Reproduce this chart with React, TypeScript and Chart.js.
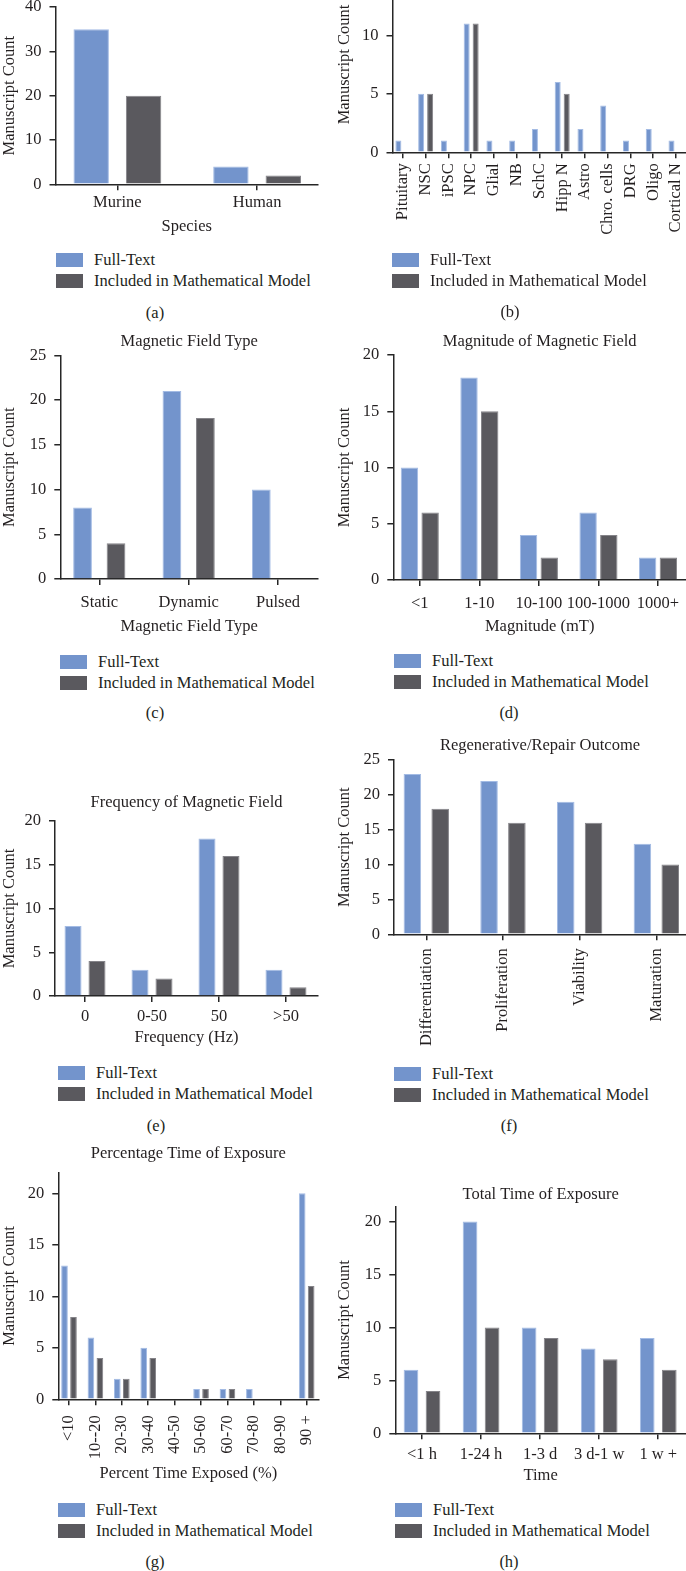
import { useEffect, useRef } from 'react';
import { Chart, registerables } from 'chart.js';

Chart.register(...registerables);

const SERIF = '"Liberation Serif", "Times New Roman", Times, serif';
const FONT_SIZE = 16.5;
const LINE_H = FONT_SIZE * 1.2;
const INK = '#231f20';
const AXIS_INK = '#262626';
const FULL_FILL = '#7394cc';
const FULL_EDGE = '#a3bbe4';
const MODEL_FILL = '#5a595e';
const MODEL_EDGE = '#858489';

const SERIES_NAMES = ['Full-Text', 'Included in Mathematical Model'];
const Y_TITLE = 'Manuscript Count';

// (a) Species
const speciesLabels = ['Murine', 'Human'];
const speciesFull = [35, 4];
const speciesModel = [20, 2];

// (b) Cell type
const cellLabels = ['Pituitary', 'NSC', 'iPSC', 'NPC', 'Glial', 'NB', 'SchC', 'Hipp N', 'Astro', 'Chro. cells', 'DRG', 'Oligo', 'Cortical N'];
const cellFull = [1, 5, 1, 11, 1, 1, 2, 6, 2, 4, 1, 2, 1];
const cellModel = [0, 5, 0, 11, 0, 0, 0, 5, 0, 0, 0, 0, 0];

// (c) Magnetic field type
const fieldTypeLabels = ['Static', 'Dynamic', 'Pulsed'];
const fieldTypeFull = [8, 21, 10];
const fieldTypeModel = [4, 18, 0];

// (d) Magnitude
const magnitudeLabels = ['<1', '1-10', '10-100', '100-1000', '1000+'];
const magnitudeFull = [10, 18, 4, 6, 2];
const magnitudeModel = [6, 15, 2, 4, 2];

// (e) Frequency
const frequencyLabels = ['0', '0-50', '50', '>50'];
const frequencyFull = [8, 3, 18, 3];
const frequencyModel = [4, 2, 16, 1];

// (f) Outcome
const outcomeLabels = ['Differentiation', 'Proliferation', 'Viability', 'Maturation'];
const outcomeFull = [23, 22, 19, 13];
const outcomeModel = [18, 16, 16, 10];

// (g) Percentage time of exposure
const percentLabels = ['<10', '10--20', '20-30', '30-40', '40-50', '50-60', '60-70', '70-80', '80-90', '90 +'];
const percentFull = [13, 6, 2, 5, 0, 1, 1, 1, 0, 20];
const percentModel = [8, 4, 2, 4, 0, 1, 1, 0, 0, 11];

// (h) Total time of exposure
const durationLabels = ['<1 h', '1-24 h', '1-3 d', '3 d-1 w', '1 w +'];
const durationFull = [6, 20, 10, 8, 9];
const durationModel = [4, 10, 9, 7, 6];

interface Rect { l: number; t: number; r: number; b: number }
interface PanelSpec {
  caption: string;
  col: 0 | 1;
  labels: string[];
  full: number[];
  model: number[];
  title?: string;
  titleY?: number;
  xTitle?: string;
  xTitleY?: number;
  xAxisH?: number;
  area: Rect;
  yMax: number;
  yStep: number;
  xMin: number;
  xMax: number;
  catPct: number;
  barPct: number;
  rotate: boolean;
  tickPad: number;
  legend: { x: number; y: number };
  captionAt: { x: number; y: number };
}

const panels: PanelSpec[] = [
  {
    caption: '(a)', col: 0, labels: speciesLabels, full: speciesFull, model: speciesModel,
    xTitle: 'Species', xTitleY: 227,
    area: { l: 55.5, t: 7, r: 318, b: 184.3 }, yMax: 40, yStep: 10,
    xMin: -0.443, xMax: 1.436, catPct: 0.75, barPct: 0.676, rotate: false, tickPad: 2.5,
    legend: { x: 56, y: 252.5 }, captionAt: { x: 155, y: 313 },
  },
  {
    caption: '(b)', col: 1, labels: cellLabels, full: cellFull, model: cellModel,
    xAxisH: 95,
    area: { l: 392.5, t: -23.2, r: 686, b: 152.3 }, yMax: 15, yStep: 5,
    xMin: -0.456, xMax: 12.44, catPct: 0.79, barPct: 0.667, rotate: true, tickPad: 5,
    legend: { x: 392, y: 253 }, captionAt: { x: 510, y: 312 },
  },
  {
    caption: '(c)', col: 0, labels: fieldTypeLabels, full: fieldTypeFull, model: fieldTypeModel,
    title: 'Magnetic Field Type', titleY: 342, xTitle: 'Magnetic Field Type', xTitleY: 626.5,
    area: { l: 60.3, t: 355.3, r: 318, b: 579 }, yMax: 25, yStep: 5,
    xMin: -0.436, xMax: 2.447, catPct: 0.749, barPct: 0.56, rotate: false, tickPad: 7.5,
    legend: { x: 60, y: 655 }, captionAt: { x: 155, y: 713 },
  },
  {
    caption: '(d)', col: 1, labels: magnitudeLabels, full: magnitudeFull, model: magnitudeModel,
    title: 'Magnitude of Magnetic Field', titleY: 342, xTitle: 'Magnitude (mT)', xTitleY: 627,
    area: { l: 393.3, t: 355, r: 686, b: 580 }, yMax: 20, yStep: 5,
    xMin: -0.445, xMax: 4.47, catPct: 0.695, barPct: 0.84, rotate: false, tickPad: 7.4,
    legend: { x: 394, y: 654 }, captionAt: { x: 509, y: 713 },
  },
  {
    caption: '(e)', col: 0, labels: frequencyLabels, full: frequencyFull, model: frequencyModel,
    title: 'Frequency of Magnetic Field', titleY: 803, xTitle: 'Frequency (Hz)', xTitleY: 1037.5,
    area: { l: 55, t: 821, r: 318, b: 996 }, yMax: 20, yStep: 5,
    xMin: -0.448, xMax: 3.478, catPct: 0.716, barPct: 0.71, rotate: false, tickPad: 4.8,
    legend: { x: 58, y: 1066 }, captionAt: { x: 156, y: 1126 },
  },
  {
    caption: '(f)', col: 1, labels: outcomeLabels, full: outcomeFull, model: outcomeModel,
    title: 'Regenerative/Repair Outcome', titleY: 746, xAxisH: 115,
    area: { l: 394, t: 760, r: 686, b: 934.3 }, yMax: 25, yStep: 5,
    xMin: -0.421, xMax: 3.387, catPct: 0.726, barPct: 0.63, rotate: true, tickPad: 8,
    legend: { x: 394, y: 1067 }, captionAt: { x: 509, y: 1126 },
  },
  {
    caption: '(g)', col: 0, labels: percentLabels, full: percentFull, model: percentModel,
    title: 'Percentage Time of Exposure', titleY: 1154, xTitle: 'Percent Time Exposed (%)', xTitleY: 1474,
    area: { l: 58.3, t: 1172.7, r: 318.3, b: 1399.3 }, yMax: 22, yStep: 5,
    xMin: -0.405, xMax: 9.44, catPct: 0.68, barPct: 0.74, rotate: true, tickPad: 10,
    legend: { x: 58, y: 1503 }, captionAt: { x: 155, y: 1562 },
  },
  {
    caption: '(h)', col: 1, labels: durationLabels, full: durationFull, model: durationModel,
    title: 'Total Time of Exposure', titleY: 1195, xTitle: 'Time', xTitleY: 1476,
    area: { l: 395.3, t: 1206.7, r: 686, b: 1433.3 }, yMax: 21.4, yStep: 5,
    xMin: -0.452, xMax: 4.47, catPct: 0.746, barPct: 0.667, rotate: false, tickPad: 5,
    legend: { x: 395, y: 1503 }, captionAt: { x: 509, y: 1562 },
  },
];

function geometry(spec: PanelSpec) {
  const left = spec.col === 0 ? 0 : 335;
  const top = spec.title
    ? Math.floor((spec.titleY as number) - LINE_H / 2 - 3)
    : Math.floor(spec.area.t - 22);
  const xAxisH = spec.xTitle
    ? (spec.xTitleY as number) + LINE_H / 2 - spec.area.b
    : (spec.xAxisH as number);
  const innerH = spec.area.b + xAxisH - top;
  const h = Math.ceil(innerH);
  const innerW = spec.area.r - left;
  const w = Math.ceil(innerW + 24);
  return {
    left,
    top,
    w,
    h,
    padTop: spec.title ? 0 : spec.area.t - top,
    padRight: w - innerW,
    padBottom: h - innerH,
    titlePadTop: spec.title ? (spec.titleY as number) - LINE_H / 2 - top : 0,
    titlePadBottom: spec.title ? spec.area.t - (spec.titleY as number) - LINE_H / 2 : 0,
    xAxisH,
    yAxisW: spec.area.l - left,
  };
}

const font = { family: SERIF, size: FONT_SIZE, weight: 'normal' as const };

function Panel({ spec }: { spec: PanelSpec }) {
  const ref = useRef<HTMLCanvasElement>(null);
  const geo = geometry(spec);

  useEffect(() => {
    const canvas = ref.current;
    if (!canvas) return;
    const toPoints = (vals: number[]) => vals.map((y, x) => ({ x, y }));
    const rot = spec.rotate ? 90 : 0;
    const axisGrid = {
      display: true,
      drawOnChartArea: false,
      drawTicks: true,
      tickLength: 6,
      offset: false,
      color: AXIS_INK,
      lineWidth: 1.5,
    };
    const axisBorder = { display: true, color: AXIS_INK, width: 1.5 };

    const chart = new Chart(canvas, {
      type: 'bar',
      data: {
        datasets: [
          {
            label: SERIES_NAMES[0],
            data: toPoints(spec.full),
            backgroundColor: FULL_FILL,
            borderColor: FULL_EDGE,
            borderWidth: 1,
            categoryPercentage: spec.catPct,
            barPercentage: spec.barPct,
          },
          {
            label: SERIES_NAMES[1],
            data: toPoints(spec.model),
            backgroundColor: MODEL_FILL,
            borderColor: MODEL_EDGE,
            borderWidth: 1,
            categoryPercentage: spec.catPct,
            barPercentage: spec.barPct,
          },
        ],
      },
      options: {
        responsive: false,
        animation: false,
        devicePixelRatio: 1,
        layout: {
          padding: { top: geo.padTop, right: geo.padRight, bottom: geo.padBottom, left: 0 },
        },
        plugins: {
          legend: { display: false },
          tooltip: { enabled: false },
          title: spec.title
            ? {
                display: true,
                text: spec.title,
                fullSize: false,
                color: INK,
                font,
                padding: { top: geo.titlePadTop, bottom: geo.titlePadBottom },
              }
            : { display: false },
        },
        scales: {
          x: {
            type: 'linear',
            min: spec.xMin,
            max: spec.xMax,
            offset: false,
            afterBuildTicks: (s: any) => {
              s.ticks = spec.labels.map((_, i) => ({ value: i }));
            },
            afterFit: (s: any) => {
              s.height = geo.xAxisH;
            },
            ticks: {
              autoSkip: false,
              minRotation: rot,
              maxRotation: rot,
              padding: spec.tickPad,
              color: INK,
              font,
              callback: (v: any) => spec.labels[Number(v)] ?? '',
            },
            grid: axisGrid,
            border: axisBorder,
            title: spec.xTitle
              ? { display: true, text: spec.xTitle, color: INK, font, padding: 0 }
              : { display: false },
          },
          y: {
            type: 'linear',
            min: 0,
            max: spec.yMax,
            afterBuildTicks: (s: any) => {
              const t: { value: number }[] = [];
              for (let v = 0; v <= spec.yMax + 1e-9; v += spec.yStep) t.push({ value: v });
              s.ticks = t;
            },
            afterFit: (s: any) => {
              s.width = geo.yAxisW;
            },
            ticks: { padding: 8, color: INK, font },
            grid: axisGrid,
            border: axisBorder,
            title: { display: true, text: Y_TITLE, color: INK, font, padding: 0 },
          },
        },
      } as any,
    });
    return () => chart.destroy();
  }, []);

  const textStyle = {
    position: 'absolute' as const,
    fontFamily: SERIF,
    fontSize: FONT_SIZE,
    lineHeight: '20px',
    color: INK,
    whiteSpace: 'nowrap' as const,
  };

  return (
    <>
      <canvas
        ref={ref}
        width={geo.w}
        height={geo.h}
        style={{ position: 'absolute', left: geo.left, top: geo.top, width: geo.w, height: geo.h }}
      />
      {SERIES_NAMES.map((name, i) => (
        <div key={name}>
          <div
            style={{
              position: 'absolute',
              left: spec.legend.x,
              top: spec.legend.y + i * 21,
              width: 27,
              height: 14,
              background: i === 0 ? FULL_FILL : MODEL_FILL,
            }}
          />
          <div style={{ ...textStyle, left: spec.legend.x + 38, top: spec.legend.y + i * 21 - 3 }}>{name}</div>
        </div>
      ))}
      <div
        style={{
          ...textStyle,
          left: spec.captionAt.x - 30,
          top: spec.captionAt.y - 10,
          width: 60,
          textAlign: 'center',
        }}
      >
        {spec.caption}
      </div>
    </>
  );
}

export default function App() {
  return (
    <div
      style={{
        position: 'absolute',
        left: 0,
        top: 0,
        width: 686,
        height: 1571,
        overflow: 'hidden',
        background: '#ffffff',
      }}
    >
      {panels.map((p) => (
        <Panel key={p.caption} spec={p} />
      ))}
    </div>
  );
}
